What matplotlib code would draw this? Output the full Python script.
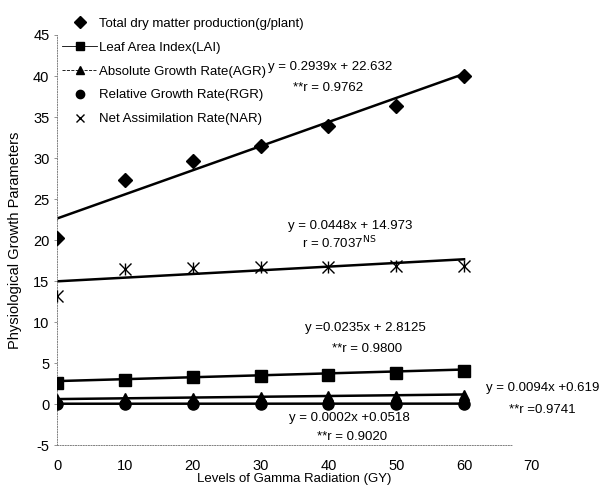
import numpy as np
import matplotlib.pyplot as plt

plt.rcParams['font.family'] = ['Liberation Sans', 'DejaVu Sans']
plt.rcParams['axes.unicode_minus'] = False

gamma = [0, 10, 20, 30, 40, 50, 60]
tdm = [20.2, 27.3, 29.6, 31.5, 33.9, 36.3, 40.0]
lai = [2.6, 2.9, 3.3, 3.4, 3.6, 3.8, 4.1]
agr = [0.65, 0.75, 0.8, 0.85, 0.95, 1.0, 1.1]
rgr = [0.05, 0.053, 0.055, 0.058, 0.06, 0.062, 0.065]
nar = [13.2, 16.5, 16.6, 16.7, 16.7, 16.8, 16.8]

# trendline coefficients (slope, intercept) as printed on the chart
tdm_fit = (0.2939, 22.632)
nar_fit = (0.0448, 14.973)
lai_fit = (0.0235, 2.8125)
agr_fit = (0.0094, 0.619)
rgr_fit = (0.0002, 0.0518)

fig = plt.figure(figsize=(6.01, 4.86), dpi=100)
ax = fig.add_axes([0.095, 0.084, 0.79, 0.844])

xs = np.array([0, 60])
for fit in [tdm_fit, nar_fit, lai_fit, agr_fit, rgr_fit]:
    ax.plot(xs, fit[0] * xs + fit[1], color='black', lw=1.8, zorder=2)

ax.plot(gamma, tdm, 'D', color='black', ms=7, zorder=3)
ax.plot(gamma, lai, 's', color='black', ms=8, zorder=3)
ax.plot(gamma, agr, '^', color='black', ms=7, zorder=3)
ax.plot(gamma, rgr, 'o', color='black', ms=8, zorder=3)
ax.plot(gamma, nar, 'x', color='black', ms=9, mew=1.0, zorder=3)
ax.plot(gamma, nar, '|', color='black', ms=9, mew=1.0, zorder=3)

# legend handles
h1, = ax.plot([], [], 'D', color='black', ms=6)
h2, = ax.plot([], [], 's-', color='black', ms=6, lw=0.6)
h3, = ax.plot([], [], '^--', color='black', ms=6, lw=0.6)
h4, = ax.plot([], [], 'o', color='black', ms=6)
h5, = ax.plot([], [], 'x', color='black', ms=6)
ax.legend([h1, h2, h3, h4, h5],
          ['Total dry matter production(g/plant)', 'Leaf Area Index(LAI)',
           'Absolute Growth Rate(AGR)', 'Relative Growth Rate(RGR)',
           'Net Assimilation Rate(NAR)'],
          loc='upper left', bbox_to_anchor=(0.0, 1.055), frameon=False,
          fontsize=9.5, handlelength=2.6, labelspacing=0.88, handletextpad=0.2,
          borderaxespad=0)

fs = 9.5
def t(px, py, s):
    fig.text(px / 601, 1 - py / 486, s, fontsize=fs, va='center', ha='left')

t(268, 67, 'y = 0.2939x + 22.632')
t(293, 88, '**r = 0.9762')
t(288, 226, 'y = 0.0448x + 14.973')
t(302, 243, r'r = 0.7037$^{\rm NS}$')
t(305, 328, 'y =0.0235x + 2.8125')
t(332, 349, '**r = 0.9800')
t(486, 388, 'y = 0.0094x +0.619')
t(509, 410, '**r =0.9741')
t(289, 418, 'y = 0.0002x +0.0518')
t(317, 437, '**r = 0.9020')

ax.set_xlim(0, 70)
ax.set_ylim(-5, 45)
ax.set_xticks(range(0, 71, 10))
ax.set_yticks(range(-5, 46, 5))
ax.tick_params(axis='both', labelsize=10.5, length=2, color='gray', width=0.6)
ax.tick_params(axis='x', pad=10, length=0)
for s in ['top', 'right']:
    ax.spines[s].set_visible(False)
for s in ['left', 'bottom']:
    ax.spines[s].set_linestyle(':')
    ax.spines[s].set_color('gray')
    ax.spines[s].set_linewidth(0.7)
ax.spines['bottom'].set_bounds(0, 67)

ax.set_xlabel('Levels of Gamma Radiation (GY)', fontsize=9.5, labelpad=0)
ax.set_ylabel('Physiological Growth Parameters', fontsize=10.5, labelpad=8)

fig.savefig('out.png', dpi=100)
